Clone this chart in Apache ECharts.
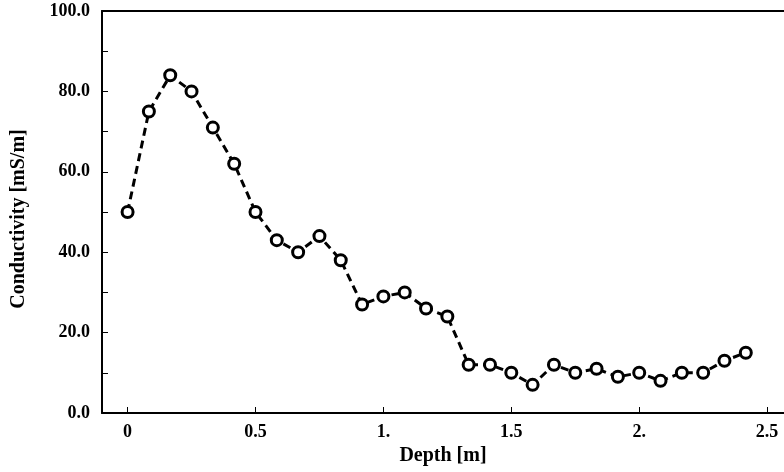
<!DOCTYPE html>
<html><head><meta charset="utf-8">
<script src="https://cdn.jsdelivr.net/npm/echarts@6/dist/echarts.min.js"></script>
<style>html,body{margin:0;padding:0;background:#fff}#c{width:784px;height:472px}</style>
</head><body><div id="c"></div>
<script>
var depth = [0, 0.0833, 0.1667, 0.25, 0.3333, 0.4167, 0.5, 0.5833, 0.6667, 0.75, 0.8333, 0.9167, 1.0, 1.0833, 1.1667, 1.25, 1.3333, 1.4167, 1.5, 1.5833, 1.6667, 1.75, 1.8333, 1.9167, 2.0, 2.0833, 2.1667, 2.25, 2.3333, 2.4167];
var conductivity = [50, 75, 84, 80, 71, 62, 50, 43, 40, 44, 38, 27, 29, 30, 26, 24, 12, 12, 10, 7, 12, 10, 11, 9, 10, 8, 10, 10, 13, 15];
var xTickValues = [0, 0.5, 1, 1.5, 2, 2.5];
var xTickLabels = ["0", "0.5", "1.", "1.5", "2.", "2.5"];

var pts = depth.map(function (d, i) { return [d, conductivity[i]]; });
var font = 'Liberation Serif';
var chart = echarts.init(document.getElementById('c'));
chart.setOption({
  animation: false,
  grid: {left: 102, right: 0, top: 11, bottom: 59, containLabel: false, outerBoundsMode: 'none'},
  xAxis: [{
    type: 'value', min: -0.1, max: 2.566,
    name: 'Depth [m]', nameLocation: 'middle', nameGap: 25,
    nameTextStyle: {fontFamily: font, fontWeight: 'bold', fontSize: 20, color: '#000'},
    axisLine: {show: true, onZero: false, lineStyle: {color: '#000', width: 2}},
    axisTick: {show: true, inside: true, length: 6, customValues: xTickValues, lineStyle: {color: '#000', width: 1}},
    splitLine: {show: false},
    axisLabel: {
      margin: 10, customValues: xTickValues,
      fontFamily: font, fontWeight: 'bold', fontSize: 18, color: '#000',
      formatter: function (v) { var i = xTickValues.indexOf(Math.round(v * 10) / 10); return i >= 0 ? xTickLabels[i] : ''; }
    }
  }, {
    type: 'value', position: 'top', min: -0.1, max: 2.566,
    axisLine: {show: true, onZero: false, lineStyle: {color: '#000', width: 2}},
    axisTick: {show: false}, axisLabel: {show: false}, splitLine: {show: false}
  }],
  yAxis: {
    type: 'value', min: 0, max: 100, interval: 10,
    name: 'Conductivity [mS/m]', nameLocation: 'middle', nameGap: 73,
    nameTextStyle: {fontFamily: font, fontWeight: 'bold', fontSize: 20, color: '#000', padding: [0, 14, 0, 0]},
    axisLine: {show: true, onZero: false, lineStyle: {color: '#000', width: 2}},
    axisTick: {show: true, inside: true, length: 6, lineStyle: {color: '#000', width: 1}},
    splitLine: {show: false},
    axisLabel: {
      margin: 12, fontFamily: font, fontWeight: 'bold', fontSize: 18, color: '#000',
      formatter: function (v) { return (Math.round(v) % 20 === 0) ? v.toFixed(1) : ''; }
    }
  },
  series: [{
    type: 'line', data: pts, xAxisIndex: 0,
    symbol: 'circle', symbolSize: 11,
    lineStyle: {color: '#000', width: 3, type: [8, 5]},
    itemStyle: {color: '#fff', borderColor: '#000', borderWidth: 3}
  }]
});
</script></body></html>
